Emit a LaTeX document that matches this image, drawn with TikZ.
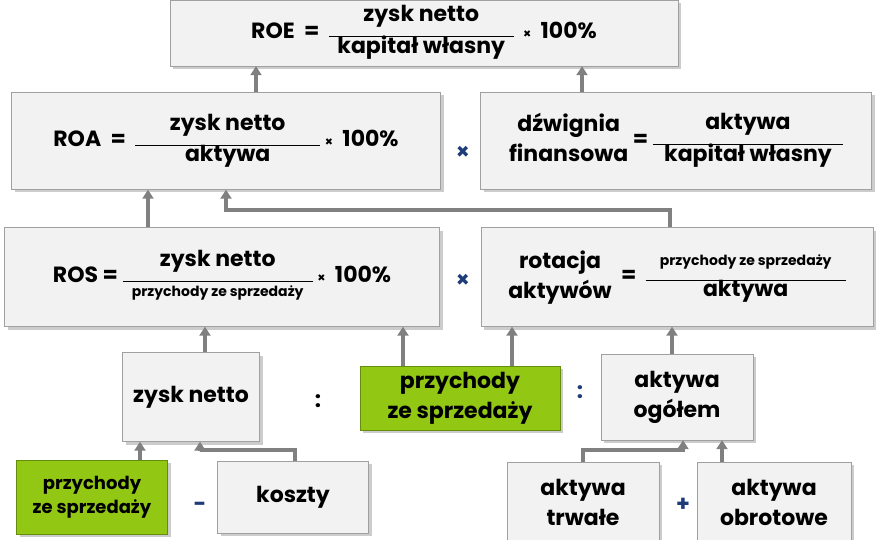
\documentclass[tikz,border=0pt]{standalone}
\usepackage{amsmath}
\usepackage{fontspec}
\setmainfont{Poppins}
\usepackage{tikz}
\usetikzlibrary{arrows.meta, shadows}
\definecolor{boxfill}{RGB}{242,242,242}
\definecolor{boxline}{RGB}{160,160,160}
\definecolor{lime}{RGB}{146,200,20}
\definecolor{opblue}{RGB}{30,60,120}
\definecolor{linkgray}{RGB}{128,128,128}
\newcommand{\ulamek}[3]{{\fontsize{22}{22}\selectfont\begin{tabular}{@{}c@{}}\makebox[#3]{#1}\\[-7pt]\rule{#3}{0.6pt}\\[-7pt]\makebox[#3]{#2}\end{tabular}}}
\tikzset{
  box/.style={draw=boxline, fill=boxfill, rectangle, align=center, font=\bfseries\fontsize{22}{30}\selectfont,
    drop shadow={shadow xshift=3pt, shadow yshift=-3pt, opacity=0.4}, inner sep=0pt},
  greenbox/.style={box, fill=lime, draw=lime!70!black},
  link/.style={linkgray, line width=4pt, -{Triangle[length=9pt, width=11pt]}},
  op/.style={font=\bfseries\fontsize{22}{26}\selectfont, opblue}
}
\begin{document}
\begin{tikzpicture}[x=1pt, y=-1pt]
      \useasboundingbox (0,0) rectangle (880,540);
      \node[box, minimum width=508pt, minimum height=66pt] (ROE) at (424,33) {ROE ~=~ \ulamek{zysk netto}{kapitał własny}{185pt} ~{\fontsize{13}{13}\selectfont ×}~ 100\%};
      \node[box, minimum width=429pt, minimum height=97pt] (ROA) at (226,141) {ROA ~=~ \ulamek{zysk netto}{aktywa}{185pt} {\fontsize{13}{13}\selectfont ×}~ 100\%};
      \node[box, minimum width=391pt, minimum height=97pt] (DF) at (676,141) {\begin{tabular}{@{}c@{}}dźwignia\\finansowa\end{tabular} = \ulamek{aktywa}{kapitał własny}{190pt}};
      \node[box, minimum width=435pt, minimum height=99pt] (ROS) at (222,277) {ROS = \ulamek{zysk netto}{\fontsize{14}{16}\selectfont przychody ze sprzedaży}{190pt} {\fontsize{13}{13}\selectfont ×}~ 100\%};
      \node[box, minimum width=392pt, minimum height=99pt] (RA) at (677,277) {\begin{tabular}{@{}c@{}}rotacja\\aktywów\end{tabular} ~=~ \ulamek{\fontsize{14}{16}\selectfont przychody ze sprzedaży}{aktywa}{200pt}};
      \node[box, minimum width=137pt, minimum height=89pt] (ZN) at (191,397) {zysk netto};
      \node[greenbox, minimum width=200pt, minimum height=64pt] (PS) at (460,398) {przychody\\ze sprzedaży};
      \node[box, minimum width=152pt, minimum height=86pt] (AO) at (677,397) {aktywa\\ogółem};
      \node[greenbox, minimum width=151pt, minimum height=74pt, font=\bfseries\fontsize{18}{24}\selectfont] (PS2) at (92,497) {przychody\\ze sprzedaży};
      \node[box, minimum width=151pt, minimum height=72pt] (K) at (293,497) {koszty};
      \node[box, minimum width=152pt, minimum height=80pt] (AT) at (583,502) {aktywa\\trwałe};
      \node[box, minimum width=154pt, minimum height=80pt] (AOB) at (774,502) {aktywa\\obrotowe};
      % operatory
      \node[op] (x1) at (463,153) {×};
      \node[op] (x2) at (463,281) {×};
      \node[op, black] (d1) at (318,401) {:};
      \node[op] (d2) at (580,392) {:};
      \node[op] (m1) at (200,507) {-};
      \node[op] (p1) at (683,505) {+};
      % polaczenia
      \draw[link] (ROA.north -| 256,0) to (ROE.south -| 256,0);
      \draw[link] (DF.north -| 582,0) to (ROE.south -| 582,0);
      \draw[link] (ROS.north -| 148,0) to (ROA.south -| 148,0);
      \draw[link] (RA.north -| 670,0) |- (226,210) to (ROA.south -| 226,0);
      \draw[link] (ZN.north -| 205,0) to (ROS.south -| 205,0);
      \draw[link] (PS.north -| 403,0) to (ROS.south -| 403,0);
      \draw[link] (PS.north -| 512,0) to (RA.south -| 512,0);
      \draw[link] (AO.north -| 672,0) to (RA.south -| 672,0);
      \draw[link] (PS2.north -| 140,0) to (ZN.south -| 140,0);
      \draw[link] (K.north -| 295,0) |- (200,450) to (ZN.south -| 200,0);
      \draw[link] (AT.north -| 583,0) |- (683,450) to (AO.south -| 683,0);
      \draw[link] (AOB.north -| 722,0) to (AO.south -| 722,0);
\end{tikzpicture}
\end{document}
